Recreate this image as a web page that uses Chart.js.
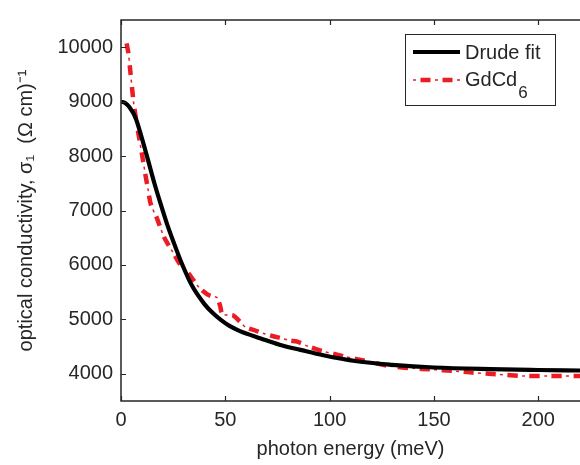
<!DOCTYPE html>
<html><head><meta charset="utf-8">
<script src="https://cdn.jsdelivr.net/npm/chart.js@4/dist/chart.umd.min.js"></script>
<style>html,body{margin:0;padding:0;background:#fff}#wrap{width:580px;height:465px}</style>
</head><body><div id="wrap"><canvas id="c" width="580" height="465"></canvas></div>
<script>
// ---- data ----
const drudeEnergy = [0, 2, 4, 7, 10, 13, 16, 19, 22, 25, 29, 34, 40, 44, 48, 52, 57, 67, 76, 86, 97, 113, 130, 150, 177, 200, 220];
const drudeSigma  = [9000, 8975, 8900, 8700, 8330, 7920, 7500, 7120, 6760, 6440, 6040, 5620, 5280, 5115, 4985, 4880, 4785, 4650, 4535, 4440, 4340, 4230, 4165, 4115, 4085, 4070, 4060];
const gdEnergy = [2.7, 3.5, 4.3, 5.9, 7.3, 8.8, 10.2, 11.5, 12.9, 14.3, 17.1, 20.3, 22.5, 25.4, 28, 31.2, 34, 36.4, 39, 41.8, 44, 46, 47.5, 48.5, 51, 53.8, 57, 59.6, 64, 68.3, 73, 77.2, 81, 84.5, 90, 97.3, 107, 118, 129, 140, 148.6, 160, 169, 180.6, 193, 205, 212.5, 220];
const gdSigma  = [10070, 9900, 9620, 9030, 8650, 8310, 8000, 7700, 7400, 7110, 6870, 6540, 6380, 6200, 6030, 5900, 5760, 5630, 5530, 5450, 5420, 5400, 5250, 5100, 5080, 5070, 4960, 4860, 4800, 4740, 4690, 4650, 4610, 4590, 4500, 4410, 4320, 4230, 4140, 4100, 4080, 4050, 4020, 3990, 3960, 3960, 3960, 3960];
const xTickValues = [0, 50, 100, 150, 200];
const yTickValues = [4000, 5000, 6000, 7000, 8000, 9000, 10000];
const seriesLabels = ['Drude fit', 'GdCd'];
const xTitle = 'photon energy (meV)';
const yTitle = 'optical conductivity, \u03C3\u2081  (\u03A9 cm)\u207B\u00B9';

const RED = '#ec1c24';
const AX = '#262626';
Chart.defaults.font.family = "'Liberation Sans', Arial, Helvetica, sans-serif";
Chart.defaults.font.size = 20;
Chart.defaults.color = AX;

const toPts = (xs, ys) => xs.map((x, i) => ({x: x, y: ys[i]}));

const framePlugin = {
  id: 'frame',
  afterDatasetsDraw(chart) {
    const {ctx, chartArea: a, scales: {x, y}} = chart;
    ctx.save();
    ctx.strokeStyle = AX;
    ctx.lineWidth = 1.5;
    ctx.beginPath();
    ctx.moveTo(a.right, a.top); ctx.lineTo(a.left, a.top);
    ctx.lineTo(a.left, a.bottom); ctx.lineTo(a.right, a.bottom);
    ctx.stroke();
    ctx.lineWidth = 1.2;
    ctx.beginPath();
    xTickValues.forEach(v => {
      const px = Math.round(x.getPixelForValue(v)) + 0.5;
      ctx.moveTo(px, a.bottom); ctx.lineTo(px, a.bottom - 5);
      ctx.moveTo(px, a.top); ctx.lineTo(px, a.top + 5);
    });
    yTickValues.forEach(v => {
      const py = Math.round(y.getPixelForValue(v)) + 0.5;
      ctx.moveTo(a.left, py); ctx.lineTo(a.left + 5, py);
    });
    ctx.stroke();

    // legend
    const ds = chart.data.datasets;
    ctx.lineWidth = 1;
    ctx.strokeStyle = AX;
    ctx.fillStyle = '#fff';
    ctx.fillRect(405.5, 34.5, 150, 71);
    ctx.strokeRect(405.5, 34.5, 150, 71);
    ctx.setLineDash([]);
    ctx.strokeStyle = ds[0].borderColor;
    ctx.lineWidth = ds[0].borderWidth;
    ctx.beginPath(); ctx.moveTo(413, 52); ctx.lineTo(460, 52); ctx.stroke();
    ctx.strokeStyle = ds[1].borderColor;
    ctx.lineWidth = ds[1].borderWidth;
    ctx.setLineDash(ds[1].borderDash);
    ctx.lineDashOffset = -7.5;
    ctx.beginPath(); ctx.moveTo(413, 80); ctx.lineTo(460, 80); ctx.stroke();
    ctx.strokeStyle = ds[2].borderColor;
    ctx.lineWidth = ds[2].borderWidth;
    ctx.setLineDash(ds[2].borderDash);
    ctx.lineDashOffset = 0;
    ctx.beginPath(); ctx.moveTo(413, 80); ctx.lineTo(460, 80); ctx.stroke();
    ctx.setLineDash([]);
    ctx.fillStyle = AX;
    ctx.textAlign = 'left';
    ctx.textBaseline = 'alphabetic';
    ctx.font = "20px 'Liberation Sans', Arial, sans-serif";
    ctx.fillText(ds[0].label, 465, 59);
    ctx.fillText(ds[1].label, 465, 86);
    const w = ctx.measureText(ds[1].label).width;
    ctx.font = "17px 'Liberation Sans', Arial, sans-serif";
    ctx.fillText('6', 465 + w + 1, 98);
    ctx.restore();
  }
};

new Chart(document.getElementById('c'), {
  type: 'line',
  data: {
    datasets: [
      {label: seriesLabels[0], data: toPts(drudeEnergy, drudeSigma), borderColor: '#000', borderWidth: 4.2,
       pointRadius: 0, cubicInterpolationMode: 'monotone', fill: false, order: 0},
      {label: seriesLabels[1], data: toPts(gdEnergy, gdSigma), borderColor: RED, borderWidth: 4.5,
       borderDash: [10, 12], borderDashOffset: 0, pointRadius: 0, tension: 0.3, fill: false, order: 1},
      {label: seriesLabels[1] + ' (thin)', data: toPts(gdEnergy, gdSigma), borderColor: RED, borderWidth: 1.5,
       borderDash: [3, 19], borderDashOffset: 7.5, pointRadius: 0, tension: 0.3, fill: false, order: 1}
    ]
  },
  options: {
    responsive: false,
    animation: false,
    devicePixelRatio: 1,
    layout: {padding: {top: 9, right: 0, left: 0, bottom: 0}},
    plugins: {legend: {display: false}, tooltip: {enabled: false}},
    scales: {
      x: {
        type: 'linear', min: 0, max: 220,
        grid: {display: false, drawTicks: false},
        border: {display: false},
        afterBuildTicks: s => { s.ticks = xTickValues.map(v => ({value: v})); },
        afterFit: s => { s.height = 64; },
        ticks: {padding: 7, color: AX, font: {size: 20}, callback: v => String(v)},
        title: {display: true, text: xTitle, color: AX, font: {size: 20}, padding: {top: 0, bottom: 4}}
      },
      y: {
        type: 'linear', min: 3500, max: 10500,
        grid: {display: false, drawTicks: false},
        border: {display: false},
        afterBuildTicks: s => { s.ticks = yTickValues.map(v => ({value: v})); },
        afterFit: s => { s.width = 121; },
        ticks: {padding: 8, color: AX, font: {size: 20}, callback: v => String(v)},
        title: {display: true, text: yTitle, color: AX, font: {size: 20}, padding: {top: 14, bottom: 0}}
      }
    }
  },
  plugins: [framePlugin]
});
</script>
</body></html>
